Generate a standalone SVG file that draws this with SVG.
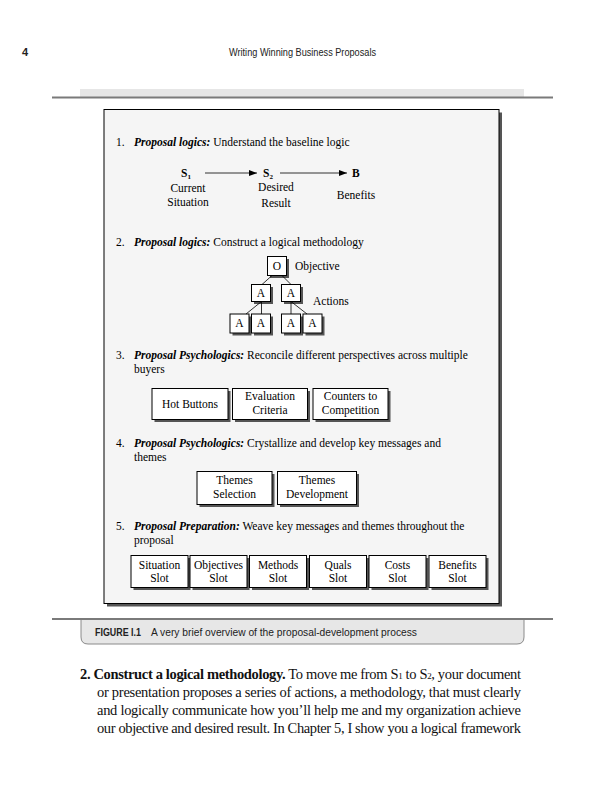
<svg xmlns="http://www.w3.org/2000/svg" width="603" height="800" viewBox="0 0 603 800">
<style>
.t{font-family:"Liberation Serif","Times New Roman",serif;font-size:11.5px;fill:#000}
.c{text-anchor:middle}
.bi{font-weight:bold;font-style:italic}
.box{fill:#fff;stroke:#000;stroke-width:1}
.sh{fill:#555}
.ln{stroke:#000;stroke-width:0.8;fill:none}
.hd{font-family:"Liberation Sans",Arial,sans-serif;font-size:11px;fill:#222}
.body{font-family:"Liberation Serif","Times New Roman",serif;font-size:14.5px;fill:#111}
</style>
<defs>
<marker id="ah" markerWidth="8" markerHeight="6" refX="8" refY="3" orient="auto" markerUnits="userSpaceOnUse">
<path d="M0,0 L8,3 L0,6 Z" fill="#000"/>
</marker>
</defs>
<rect width="603" height="800" fill="#fff"/>
<g id="header">
<text x="22" y="56" class="hd" font-weight="bold" font-size="11">4</text>
<text x="229" y="56" class="hd" textLength="147" lengthAdjust="spacingAndGlyphs">Writing Winning Business Proposals</text>
<rect x="80" y="89" width="444" height="8" fill="#e6e6e6"/>
<line x1="52" y1="97.5" x2="553" y2="97.5" stroke="#7a7a7a" stroke-width="2"/>
</g>
<g id="frame">
<rect x="107" y="112.5" width="395" height="494" class="sh"/>
<rect x="104" y="109.5" width="395" height="494" fill="#f5f5f5" stroke="#000" stroke-width="1"/>
</g>
<g id="sec1">
<text x="116" y="146" class="t">1.</text>
<text x="134" y="146" class="t"><tspan class="bi">Proposal logics:</tspan> Understand the baseline logic</text>
<g id="s1"><text x="181" y="177" class="t" font-weight="bold">S<tspan font-size="7" dy="2">1</tspan></text>
<text x="188" y="192" class="t c">Current</text><text x="188" y="206" class="t c">Situation</text></g>
<g id="s2"><text x="263" y="177" class="t" font-weight="bold">S<tspan font-size="7" dy="2">2</tspan></text>
<text x="276" y="191" class="t c">Desired</text><text x="276" y="207" class="t c">Result</text></g>
<g id="b"><text x="352" y="177" class="t" font-weight="bold">B</text>
<text x="356" y="199" class="t c">Benefits</text></g>
</g>
<g id="sec2">
<text x="116" y="246" class="t">2.</text>
<text x="134" y="246" class="t"><tspan class="bi">Proposal logics:</tspan> Construct a logical methodology</text>
<text x="295" y="270" class="t">Objective</text>
<text x="313" y="305" class="t">Actions</text>
</g>
<g id="tree">
<g id="o"><rect x="270" y="259" width="19" height="19" class="sh"/><rect x="267.5" y="256.5" width="19" height="19" class="box"/><text x="277" y="270" class="t c" font-size="9">O</text></g>
<g id="a1"><rect x="254" y="287" width="19" height="17" class="sh"/><rect x="251.5" y="284.5" width="19" height="17" class="box"/><text x="261" y="297" class="t c" font-size="9">A</text></g>
<g id="a2"><rect x="284" y="287" width="19" height="17" class="sh"/><rect x="281.5" y="284.5" width="19" height="17" class="box"/><text x="291" y="297" class="t c" font-size="9">A</text></g>
<g id="a11"><rect x="232.5" y="316.5" width="19" height="19" class="sh"/><rect x="230" y="314" width="19" height="19" class="box"/><text x="239.5" y="327" class="t c" font-size="9">A</text></g>
<g id="a12"><rect x="254" y="316.5" width="19" height="19" class="sh"/><rect x="251.5" y="314" width="19" height="19" class="box"/><text x="261" y="327" class="t c" font-size="9">A</text></g>
<g id="a21"><rect x="284" y="316.5" width="19" height="19" class="sh"/><rect x="281.5" y="314" width="19" height="19" class="box"/><text x="291" y="327" class="t c" font-size="9">A</text></g>
<g id="a22"><rect x="305.5" y="316.5" width="19" height="19" class="sh"/><rect x="303" y="314" width="19" height="19" class="box"/><text x="312.5" y="327" class="t c" font-size="9">A</text></g>
</g>
<g id="connectors">
<line x1="205" y1="173" x2="257" y2="173" class="ln" marker-end="url(#ah)"/>
<line x1="280" y1="173" x2="347" y2="173" class="ln" marker-end="url(#ah)"/>
<line x1="272" y1="275.5" x2="262" y2="284.5" class="ln"/>
<line x1="282" y1="275.5" x2="291" y2="284.5" class="ln"/>
<line x1="261.5" y1="301.5" x2="246" y2="314" class="ln"/>
<line x1="261.5" y1="301.5" x2="261.5" y2="314" class="ln"/>
<line x1="291" y1="301.5" x2="291" y2="314" class="ln"/>
<line x1="291" y1="301.5" x2="307" y2="314" class="ln"/>
</g>
<g id="sec3">
<text x="116" y="359" class="t">3.</text>
<text x="134" y="359" class="t"><tspan class="bi">Proposal Psychologics:</tspan> Reconcile different perspectives across multiple</text>
<text x="134" y="373" class="t">buyers</text>
<g id="hot"><rect x="154.5" y="391" width="76" height="31" class="sh"/><rect x="152" y="388.5" width="76" height="31" class="box"/><text x="190" y="408" class="t c">Hot Buttons</text></g>
<g id="eval"><rect x="235" y="391" width="75" height="31" class="sh"/><rect x="232.5" y="388.5" width="75" height="31" class="box"/><text x="270" y="400" class="t c">Evaluation</text><text x="270" y="414" class="t c">Criteria</text></g>
<g id="counters"><rect x="315.5" y="391" width="75" height="31" class="sh"/><rect x="313" y="388.5" width="75" height="31" class="box"/><text x="350.5" y="400" class="t c">Counters to</text><text x="350.5" y="414" class="t c">Competition</text></g>
</g>
<g id="sec4">
<text x="116" y="447" class="t">4.</text>
<text x="134" y="447" class="t"><tspan class="bi">Proposal Psychologics:</tspan> Crystallize and develop key messages and</text>
<text x="134" y="461" class="t">themes</text>
<g id="tsel"><rect x="199.5" y="474" width="75" height="33" class="sh"/><rect x="197" y="471.5" width="75" height="33" class="box"/><text x="234.5" y="484" class="t c">Themes</text><text x="234.5" y="498" class="t c">Selection</text></g>
<g id="tdev"><rect x="280" y="474" width="79" height="33" class="sh"/><rect x="277.5" y="471.5" width="79" height="33" class="box"/><text x="317" y="484" class="t c">Themes</text><text x="317" y="498" class="t c">Development</text></g>
</g>
<g id="sec5">
<text x="116" y="530" class="t">5.</text>
<text x="134" y="530" class="t"><tspan class="bi">Proposal Preparation:</tspan> Weave key messages and themes throughout the</text>
<text x="134" y="544" class="t">proposal</text>
<g id="slot1"><rect x="133.5" y="558" width="57" height="32" class="sh"/><rect x="131" y="555.5" width="57" height="32" class="box"/><text x="159.5" y="569" class="t c">Situation</text><text x="159.5" y="582" class="t c">Slot</text></g>
<g id="slot2"><rect x="192.5" y="558" width="57" height="32" class="sh"/><rect x="190" y="555.5" width="57" height="32" class="box"/><text x="218.5" y="569" class="t c">Objectives</text><text x="218.5" y="582" class="t c">Slot</text></g>
<g id="slot3"><rect x="252" y="558" width="57" height="32" class="sh"/><rect x="249.5" y="555.5" width="57" height="32" class="box"/><text x="278" y="569" class="t c">Methods</text><text x="278" y="582" class="t c">Slot</text></g>
<g id="slot4"><rect x="312" y="558" width="57" height="32" class="sh"/><rect x="309.5" y="555.5" width="57" height="32" class="box"/><text x="338" y="569" class="t c">Quals</text><text x="338" y="582" class="t c">Slot</text></g>
<g id="slot5"><rect x="371.5" y="558" width="57" height="32" class="sh"/><rect x="369" y="555.5" width="57" height="32" class="box"/><text x="397.5" y="569" class="t c">Costs</text><text x="397.5" y="582" class="t c">Slot</text></g>
<g id="slot6"><rect x="431.5" y="558" width="57" height="32" class="sh"/><rect x="429" y="555.5" width="57" height="32" class="box"/><text x="457.5" y="569" class="t c">Benefits</text><text x="457.5" y="582" class="t c">Slot</text></g>
</g>
<g id="caption">
<path d="M81,619 L81,637 Q81,644 88,644 L517,644 Q524,644 524,637 L524,619 Z" fill="#e7e7e7" stroke="#8a8a8a" stroke-width="1"/>
<line x1="52" y1="619" x2="553" y2="619" stroke="#7a7a7a" stroke-width="2"/>
<text x="95" y="636" class="hd" font-weight="bold" font-size="10" textLength="46" lengthAdjust="spacingAndGlyphs">FIGURE I.1</text>
<text x="151" y="636" class="hd" font-size="10" textLength="266" lengthAdjust="spacingAndGlyphs">A very brief overview of the proposal-development process</text>
</g>
<g id="bodytext">
<text x="80" y="679" class="body" textLength="441" lengthAdjust="spacing"><tspan font-weight="bold">2. Construct a logical methodology.</tspan> To move me from S<tspan font-size="9">1</tspan> to S<tspan font-size="9">2</tspan>, your document</text>
<text x="97" y="697" class="body" textLength="424" lengthAdjust="spacing">or presentation proposes a series of actions, a methodology, that must clearly</text>
<text x="97" y="715" class="body" textLength="424" lengthAdjust="spacing">and logically communicate how you’ll help me and my organization achieve</text>
<text x="97" y="733" class="body" textLength="424" lengthAdjust="spacing">our objective and desired result. In Chapter 5, I show you a logical framework</text>
</g>
</svg>
